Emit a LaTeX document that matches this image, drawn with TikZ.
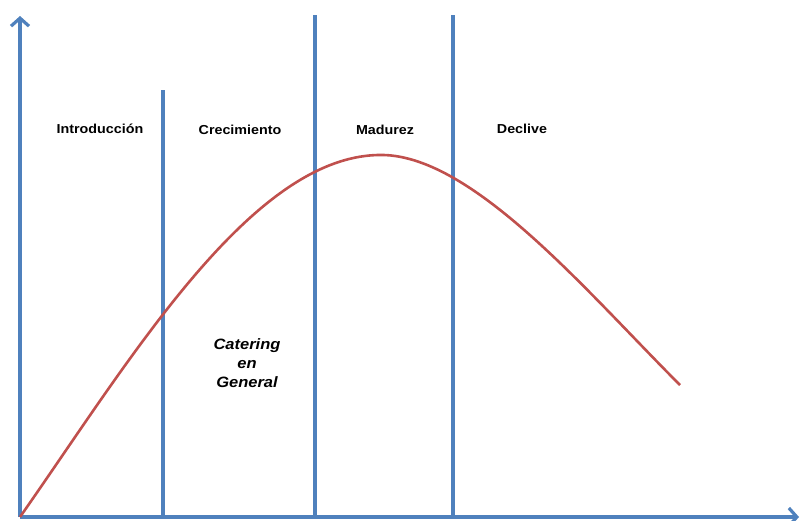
\documentclass[tikz,border=0pt]{standalone}
\usepackage{fontspec}
\setmainfont{Liberation Sans}
\newfontfamily\labfont[FakeStretch=1.1]{Liberation Sans}
\usetikzlibrary{arrows.meta,positioning}
\definecolor{axisblue}{RGB}{79,129,189}
\definecolor{curvered}{RGB}{192,80,77}

\begin{document}
\begin{tikzpicture}[x=1pt, y=-1pt,
  axis/.style={draw=axisblue, line width=3.2pt, -{Straight Barb[length=8pt, width=18pt, line width=0pt 1]}},
  stage/.style={draw=axisblue, line width=3.2pt},
  curve/.style={draw=curvered, line width=2.6pt},
  lab/.style={font=\labfont\fontsize{13}{15}\selectfont\bfseries, inner sep=0pt},
  prod/.style={font=\labfont\fontsize{15}{19}\selectfont\bfseries\itshape, align=center, inner sep=0pt}]
\useasboundingbox (0,0) rectangle (801,520);
% Axes
\coordinate (o) at (20,517);
\coordinate (ytop) at (20,16);
\coordinate (xend) at (799,517);
\draw[axis] (o) -- (ytop);
\draw[axis] (o) -- (xend);
% Stage limits
\coordinate (s1top) at (163,90);
\coordinate (s1bot) at (163,517);
\coordinate (s2top) at (315,15);
\coordinate (s2bot) at (315,517);
\coordinate (s3top) at (453,15);
\coordinate (s3bot) at (453,517);
\draw[stage] (s1bot) -- (s1top);
\draw[stage] (s2bot) -- (s2top);
\draw[stage] (s3bot) -- (s3top);
% Life cycle curve
\coordinate (peak) at (378,155);
\coordinate (cend) at (680,385);
\draw[curve] (o) .. controls (130,360) and (250,158) .. (peak)
  .. controls (470,152) and (585,290) .. (cend);
% Stage labels
\node[lab] (intro) at (100,129) {Introducción};
\node[lab] (crec) at (240,130) {Crecimiento};
\node[lab] (madur) at (385,130) {Madurez};
\node[lab] (decl) at (522,129) {Declive};
% Product
\node[prod] (cat) at (247,363) {Catering\\en\\General};
\end{tikzpicture}
\end{document}
